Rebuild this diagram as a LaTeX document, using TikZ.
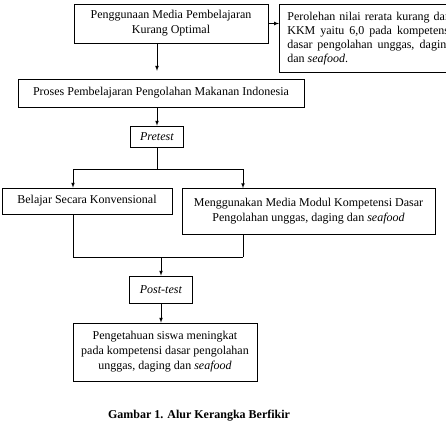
\documentclass[tikz,border=0pt]{standalone}
\usepackage{fontspec}
\setmainfont{Liberation Serif}
\usetikzlibrary{arrows}

\begin{document}
\begin{tikzpicture}[x=1pt,y=-1pt,line width=0.7pt,>=latex]
  \tikzstyle{every node} = [font=\fontsize{12}{15}\selectfont]
  \tikzstyle{kotak} = [draw, align=center, inner sep=2pt]
\useasboundingbox (0,0) rectangle (446,421);
\clip (0,0) rectangle (446,421);

\node[kotak, minimum width=194, minimum height=39] (media) at (171,23.5)
  {Penggunaan Media Pembelajaran\\Kurang Optimal};
\node[kotak, anchor=north west, text width=165, align=justify,
      font=\fontsize{12}{14}\selectfont,
      minimum height=68, inner xsep=8pt, inner ysep=3pt] (nilai) at (279,4)
  {Perolehan nilai rerata kurang dari KKM yaitu 6,0 pada kompetensi dasar pengolahan unggas, daging dan \textit{seafood}.};
\node[kotak, minimum width=286, minimum height=28] (proses) at (161,93)
  {Proses Pembelajaran Pengolahan Makanan Indonesia};
\node[kotak, minimum width=53, minimum height=21] (pre) at (157,136.5)
  {\textit{Pretest}};
\node[kotak, minimum width=170, minimum height=26] (konv) at (87,201)
  {Belajar Secara Konvensional};
\node[kotak, minimum width=253, minimum height=46] (modul) at (308.5,211.5)
  {Menggunakan Media Modul Kompetensi Dasar\\Pengolahan unggas, daging dan \textit{seafood}};
\node[kotak, minimum width=63, minimum height=27] (post) at (161,289.5)
  {\textit{Post-test}};
\node[kotak, minimum width=184, minimum height=58] (hasil) at (165,352)
  {Pengetahuan siswa meningkat\\pada kompetensi dasar pengolahan\\unggas, daging dan \textit{seafood}};
\node[font=\fontsize{12}{12}\selectfont\bfseries] (judul) at (199,416)
  {Gambar 1. Alur Kerangka Berfikir};

\coordinate (c1) at (73,169);
\coordinate (c2) at (243,169);
\coordinate (d1) at (73,257);
\coordinate (d2) at (243,257);

\draw[->] (media.south -| pre.north) -- ++(0,27.5);
\draw[->] (media.east) -- (nilai.west |- media.east);
\draw[->] (pre.north |- proses.south) -- (pre.north);
\draw (pre.south) -- (pre.south |- c1);
\draw (c1) -- (c2);
\draw[->] (c1) -- (c1 |- konv.north);
\draw[->] (c2) -- (c2 |- modul.north);
\draw (c1 |- konv.south) -- (d1);
\draw (c2 |- modul.south) -- (d2);
\draw (d1) -- (d2);
\draw[->] (d1 -| post.north) -- (post.north);
\draw[->] (post.south) -- (post.south |- hasil.north);

\end{tikzpicture}
\end{document}
